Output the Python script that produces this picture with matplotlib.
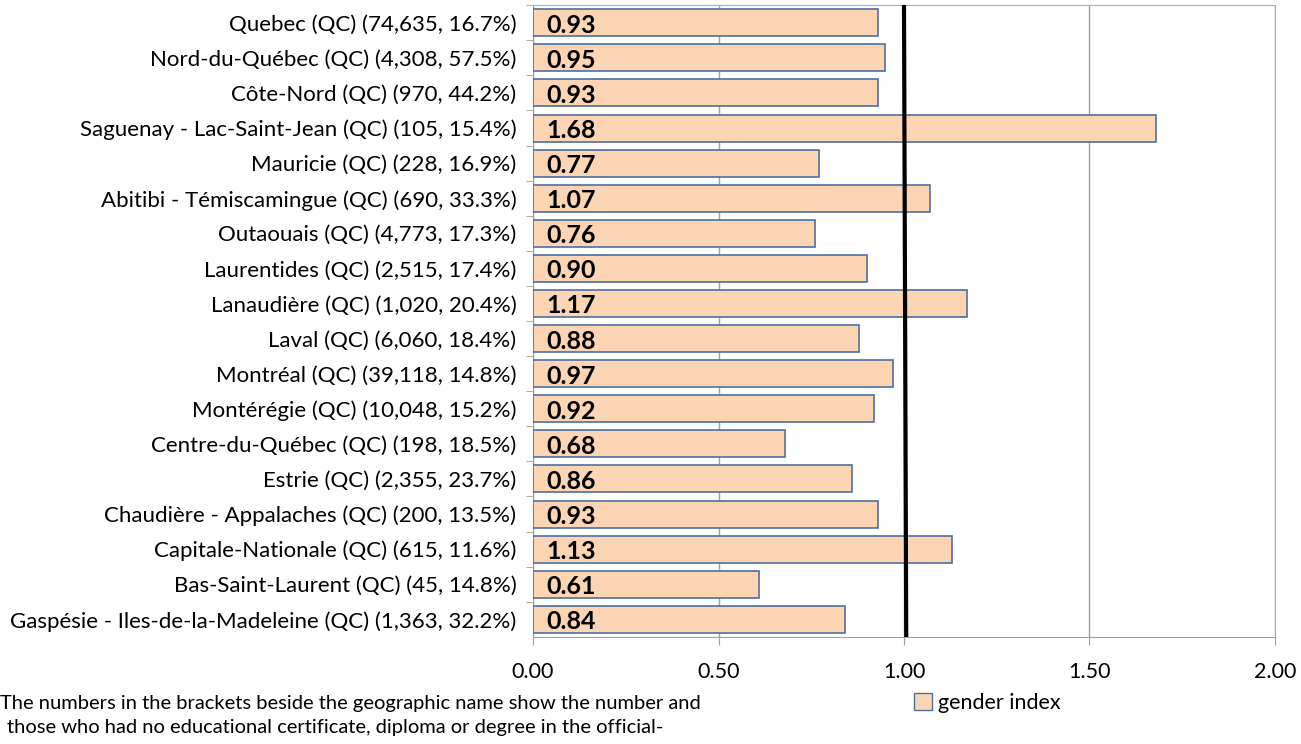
import matplotlib.pyplot as plt
from matplotlib.patches import Patch

plt.rcParams['font.family'] = ['Lato', 'DejaVu Sans']

# regions, top to bottom as shown
regions = [
    "Quebec (QC) (74,635, 16.7%)",
    "Nord-du-Québec (QC) (4,308, 57.5%)",
    "Côte-Nord (QC) (970, 44.2%)",
    "Saguenay - Lac-Saint-Jean (QC) (105, 15.4%)",
    "Mauricie (QC) (228, 16.9%)",
    "Abitibi - Témiscamingue (QC) (690, 33.3%)",
    "Outaouais (QC) (4,773, 17.3%)",
    "Laurentides (QC) (2,515, 17.4%)",
    "Lanaudière (QC) (1,020, 20.4%)",
    "Laval (QC) (6,060, 18.4%)",
    "Montréal (QC) (39,118, 14.8%)",
    "Montérégie (QC) (10,048, 15.2%)",
    "Centre-du-Québec (QC) (198, 18.5%)",
    "Estrie (QC) (2,355, 23.7%)",
    "Chaudière - Appalaches (QC) (200, 13.5%)",
    "Capitale-Nationale (QC) (615, 11.6%)",
    "Bas-Saint-Laurent (QC) (45, 14.8%)",
    "Gaspésie - Iles-de-la-Madeleine (QC) (1,363, 32.2%)",
]
gender_index = [0.93, 0.95, 0.93, 1.68, 0.77, 1.07, 0.76, 0.90, 1.17,
                0.88, 0.97, 0.92, 0.68, 0.86, 0.93, 1.13, 0.61, 0.84]

fig = plt.figure(figsize=(13.01, 7.44), dpi=100)
ax = fig.add_axes([0.4097, 0.144, 0.5703, 0.849])

pos = list(range(len(regions)))[::-1]
ax.barh(pos, gender_index, height=0.77, color='#fcd5b5',
        edgecolor='#4f6fa0', linewidth=1.2, zorder=3)

for y, v in zip(pos, gender_index):
    ax.text(0.035, y - 0.07, f"{v:.2f}", va='center', ha='left',
            fontsize=18, fontweight='bold', color='black', zorder=4)

# reference line at parity
ax.plot([1.0, 1.006], [len(regions) - 0.5, -0.5], color='black', lw=3, zorder=5)

ax.set_xlim(0, 2)
ax.set_ylim(-0.5, len(regions) - 0.5)
ax.set_xticks([0, 0.5, 1.0, 1.5, 2.0])
ax.set_xticklabels(["0.00", "0.50", "1.00", "1.50", "2.00"])
ax.set_yticks(pos)
ax.set_yticklabels(regions)
ax.set_yticks([p + 0.5 for p in pos], minor=True)
ax.tick_params(axis='y', which='major', length=0, labelsize=16, pad=12)
ax.tick_params(axis='y', which='minor', length=5, color='#a0a0a0')
ax.tick_params(axis='x', length=6, color='#a0a0a0', labelsize=15.5, pad=12)
ax.xaxis.grid(True, color='#a0a0a0', lw=1, zorder=0)

ax.spines['left'].set_color('#a0a0a0')
ax.spines['bottom'].set_color('#a0a0a0')
ax.spines['top'].set_color('#95b3d7')
ax.spines['right'].set_color('#95b3d7')

fig.text(0.0, 0.055, "The numbers in the brackets beside the geographic name show the number and",
         fontsize=14.5, va='center', ha='left')
fig.text(0.005, 0.022, "those who had no educational certificate, diploma or degree in the official-",
         fontsize=14.5, va='center', ha='left')

fig.legend(handles=[Patch(facecolor='#fcd5b5', edgecolor='#4f6fa0', label='gender index')],
           loc='center left', bbox_to_anchor=(0.688, 0.055), frameon=False,
           fontsize=15.5, handlelength=0.8, handleheight=0.8, handletextpad=0.3)

fig.savefig("out.png", dpi=100)
